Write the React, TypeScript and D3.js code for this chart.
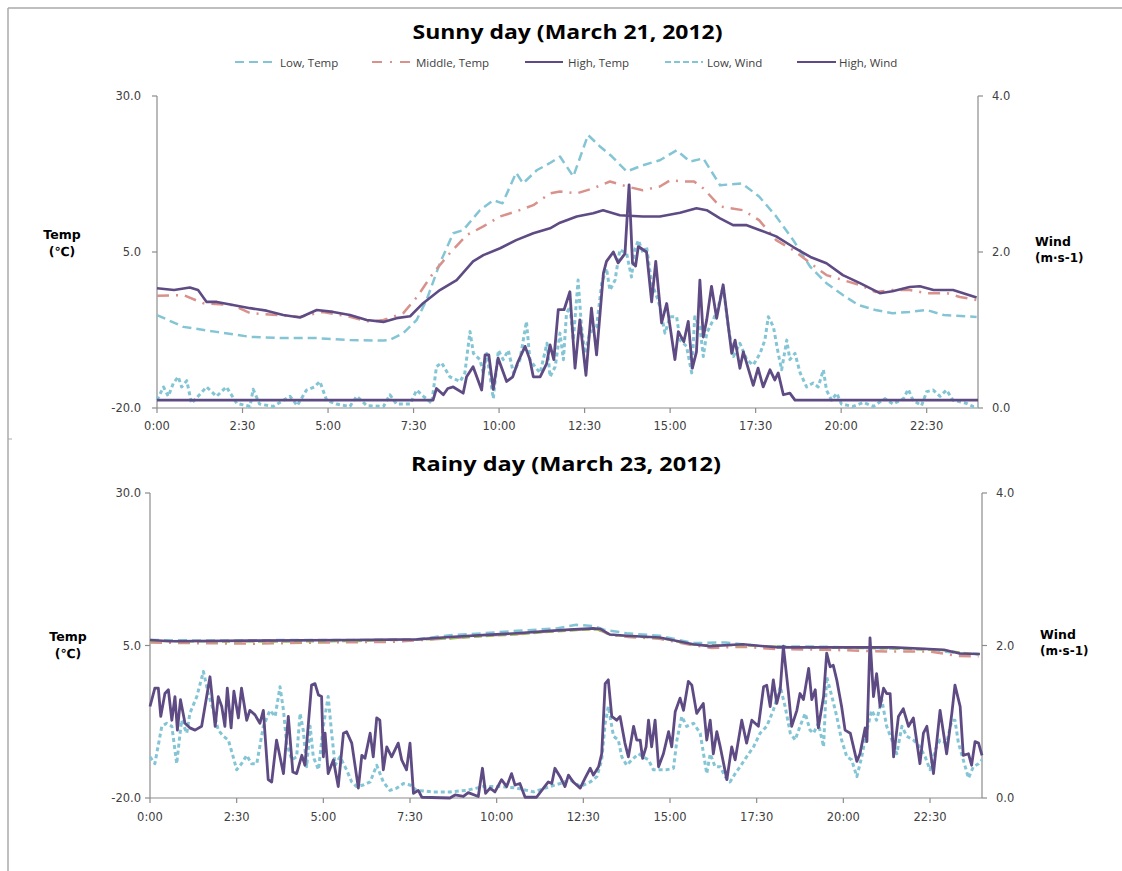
import React from 'react';
import * as d3 from 'd3';

type P = [number, number]; // [hour of day, value]

// ---------- axis definitions ----------
const tickHours = [0, 2.5, 5, 7.5, 10, 12.5, 15, 17.5, 20, 22.5];
const timeTickLabels = ['0:00', '2:30', '5:00', '7:30', '10:00', '12:30', '15:00', '17:30', '20:00', '22:30'];
const tempTicks = [-20, 5, 30];
const windTicks = [0, 2, 4];
const seriesNames = ['Low, Temp', 'Middle, Temp', 'High, Temp', 'Low, Wind', 'High, Wind'];
const titles = ['Sunny day (March 21, 2012)', 'Rainy day (March 23, 2012)'];

// ---------- Sunny day (March 21, 2012) ----------
const sunnyLowTemp: P[] = [[0,-5.1],[0.77,-7.0],[1.74,-7.8],[2.72,-8.6],[3.69,-8.8],[4.67,-8.8],[5.64,-9.1],[6.62,-9.2],[6.8,-9.1],[7.2,-8.0],[7.59,-5.9],[7.88,-2.7],[8.27,3.2],[8.66,8.0],[8.95,8.5],[9.44,11.7],[9.83,13.3],[10.1,12.8],[10.5,17.7],[10.7,16.0],[11.1,18.1],[11.5,19.3],[11.78,20.3],[12.17,17.1],[12.6,23.75],[12.95,21.9],[13.3,20.3],[13.73,17.9],[14.2,18.9],[14.7,19.7],[15.19,21.3],[15.58,19.5],[15.97,20.0],[16.46,15.7],[17.1,16.0],[17.6,13.9],[18.1,10.7],[18.6,6.9],[19.1,2.6],[19.57,0.0],[20.05,-1.9],[20.5,-3.5],[21.0,-4.3],[21.5,-4.8],[22.0,-4.6],[22.5,-4.3],[23.0,-5.1],[23.96,-5.4]];
const sunnyMidTemp: P[] = [[0,-2.0],[0.77,-1.9],[1.35,-3.2],[2.2,-3.5],[2.72,-4.8],[3.5,-5.1],[4.18,-5.4],[4.86,-4.6],[5.64,-5.4],[6.23,-6.2],[6.62,-5.9],[7.2,-4.8],[7.6,-2.2],[8.07,1.6],[8.56,4.8],[9.05,7.7],[9.54,9.1],[10.03,10.7],[10.5,11.5],[11.0,12.5],[11.49,14.4],[11.78,14.7],[12.27,14.4],[12.75,15.2],[13.24,16.3],[13.73,15.5],[14.2,14.9],[14.7,15.5],[15.0,16.5],[15.38,16.3],[15.7,16.3],[15.97,15.2],[16.46,12.3],[17.13,11.7],[17.6,10.1],[18.1,6.9],[18.6,5.3],[19.1,3.2],[19.57,1.3],[20.05,0.5],[20.55,-0.3],[21.0,-1.4],[21.5,-1.1],[22.0,-1.1],[22.5,-1.6],[23.1,-1.6],[23.47,-2.2],[23.96,-2.7]];
const sunnyHighTemp: P[] = [[0,-0.8],[0.5,-1.1],[0.96,-0.7],[1.2,-1.1],[1.45,-3.0],[1.75,-3.0],[2.22,-3.5],[2.72,-4.0],[3.2,-4.4],[3.69,-5.1],[4.18,-5.5],[4.67,-4.3],[5.15,-4.6],[5.64,-5.1],[6.13,-5.9],[6.62,-6.2],[7.0,-5.6],[7.4,-5.3],[7.78,-3.2],[8.27,-1.1],[8.76,0.5],[9.24,3.5],[9.54,4.5],[10.03,5.6],[10.5,6.9],[11.0,8.0],[11.49,8.8],[11.78,9.7],[12.27,10.7],[12.75,11.2],[13.04,11.7],[13.53,10.9],[14.2,10.7],[14.7,10.7],[15.29,11.3],[15.77,12.0],[16.07,11.7],[16.46,10.4],[16.84,9.3],[17.24,9.3],[17.63,8.5],[18.1,7.5],[18.6,5.8],[19.1,4.2],[19.57,3.2],[20.05,1.3],[20.55,0.0],[21.13,-1.6],[21.5,-1.3],[22.0,-0.6],[22.3,-0.5],[22.7,-1.1],[23.27,-1.1],[23.96,-2.3]];
const sunnyLowWind: P[] = [[0,0.1],[0.19,0.27],[0.33,0.15],[0.48,0.32],[0.62,0.40],[0.72,0.27],[0.87,0.35],[1.01,0.06],[1.2,0.15],[1.45,0.27],[1.74,0.15],[2.03,0.27],[2.33,0.06],[2.72,0.02],[2.81,0.24],[3.0,0.05],[3.4,0.02],[3.89,0.15],[4.1,0.03],[4.37,0.23],[4.6,0.27],[4.76,0.34],[4.96,0.10],[5.25,0.05],[5.64,0.02],[5.84,0.15],[6.13,0.03],[6.62,0.02],[6.81,0.17],[7.0,0.05],[7.4,0.05],[7.59,0.23],[7.79,0.15],[8.03,0.06],[8.17,0.53],[8.32,0.58],[8.56,0.40],[8.86,0.34],[9.0,0.45],[9.15,0.98],[9.25,0.70],[9.44,0.62],[9.54,0.45],[9.64,0.70],[9.83,0.12],[9.98,0.74],[10.12,0.62],[10.27,0.74],[10.42,0.45],[10.61,0.62],[10.8,1.11],[10.9,0.62],[11.05,0.53],[11.2,0.45],[11.4,0.83],[11.49,0.40],[11.64,0.53],[11.78,0.96],[11.88,0.62],[11.97,1.21],[12.07,1.30],[12.17,0.87],[12.31,1.64],[12.41,1.04],[12.51,0.70],[12.65,0.96],[12.85,1.04],[13.0,1.60],[13.14,1.79],[13.24,1.51],[13.39,1.64],[13.53,2.03],[13.73,1.98],[13.87,1.68],[13.97,2.03],[14.07,2.15],[14.22,1.98],[14.31,2.07],[14.46,1.60],[14.61,1.43],[14.7,1.30],[14.85,0.96],[15.0,1.17],[15.19,1.17],[15.29,0.87],[15.48,0.79],[15.63,0.45],[15.72,1.17],[15.87,1.04],[15.97,0.66],[16.07,0.96],[16.26,1.13],[16.41,1.30],[16.55,1.56],[16.7,1.04],[16.85,0.66],[17.04,0.83],[17.24,0.62],[17.43,0.55],[17.63,0.70],[17.77,0.87],[17.87,1.17],[18.02,1.04],[18.16,0.70],[18.26,0.49],[18.41,0.87],[18.5,0.62],[18.65,0.70],[18.8,0.45],[18.99,0.27],[19.18,0.32],[19.33,0.27],[19.48,0.49],[19.57,0.23],[19.72,0.10],[19.87,0.19],[20.01,0.05],[20.35,0.02],[20.65,0.07],[20.94,0.02],[21.28,0.12],[21.52,0.05],[21.82,0.12],[21.96,0.24],[22.1,0.10],[22.35,0.03],[22.5,0.21],[22.69,0.23],[22.89,0.15],[23.08,0.23],[23.27,0.10],[23.47,0.08],[23.66,0.06],[23.85,0.02],[24,0.02]];
const sunnyHighWind: P[] = [[0,0.1],[8.07,0.1],[8.17,0.25],[8.37,0.17],[8.5,0.25],[8.66,0.27],[8.95,0.19],[9.05,0.40],[9.24,0.53],[9.49,0.23],[9.59,0.68],[9.7,0.68],[9.83,0.24],[9.97,0.64],[10.22,0.34],[10.4,0.40],[10.55,0.59],[10.76,0.79],[10.9,0.62],[11.0,0.40],[11.2,0.40],[11.39,0.57],[11.49,0.81],[11.6,0.62],[11.73,1.26],[11.9,1.26],[12.07,1.49],[12.22,0.51],[12.36,1.13],[12.54,0.42],[12.7,1.28],[12.85,0.68],[13.05,1.73],[13.14,1.88],[13.34,2.0],[13.48,1.86],[13.68,1.98],[13.8,2.86],[13.9,1.86],[13.99,1.82],[14.07,2.07],[14.31,2.0],[14.46,1.36],[14.58,1.88],[14.75,1.09],[14.9,1.34],[15.14,0.62],[15.24,0.98],[15.4,0.85],[15.53,1.11],[15.65,0.51],[15.77,0.72],[15.87,1.64],[15.97,0.91],[16.07,1.13],[16.21,1.56],[16.36,1.15],[16.55,1.58],[16.8,0.70],[16.9,0.87],[17.04,0.51],[17.14,0.72],[17.43,0.29],[17.57,0.51],[17.72,0.27],[17.92,0.49],[18.06,0.36],[18.16,0.45],[18.31,0.17],[18.5,0.19],[18.65,0.10],[24,0.10]];

// ---------- Rainy day (March 23, 2012) ----------
const rainyLowTemp: P[] = [[0,5.9],[2,5.8],[4,5.9],[6,5.9],[7.7,6.0],[8.65,6.7],[9.6,7.0],[10.58,7.4],[11.73,7.8],[12.3,8.4],[12.79,8.2],[13.1,7.6],[13.75,7.0],[14.7,6.6],[15.67,5.4],[16.6,5.5],[17.6,4.9],[19.5,4.8],[21.4,4.5],[22.5,4.4],[23.3,3.7],[23.9,3.6]];
const rainyMidTemp: P[] = [[0,5.5],[1,5.4],[3,5.3],[5,5.5],[7,5.6],[8.7,6.2],[9.6,6.6],[10.6,6.9],[11.5,7.3],[12.3,7.6],[12.9,7.7],[13.3,6.7],[13.8,6.4],[14.7,6.1],[15.7,5.0],[16.2,4.6],[17.1,4.8],[18.1,4.4],[19.5,4.3],[21.4,4.0],[22.5,4.0],[23.3,3.3],[23.9,3.2]];
const rainyOtherTemp: P[] = [[0,5.7],[3,5.6],[6,5.7],[8.6,6.1],[9.6,6.5],[10.6,6.8],[11.5,7.2],[12.3,7.5],[12.9,7.6],[13.3,6.7],[14.7,6.2],[15.7,5.1],[17.1,5.0],[19.5,4.6],[21.4,4.5],[22.9,4.2],[23.9,3.5]];
const rainyHighTemp: P[] = [[0,5.9],[0.6,5.7],[2.9,5.8],[5.8,5.9],[7.7,6.0],[8.65,6.4],[9.6,6.7],[10.58,7.0],[11.54,7.4],[12.1,7.6],[12.79,7.8],[13.0,7.7],[13.27,6.8],[13.75,6.6],[14.7,6.3],[15.67,5.2],[16.15,4.9],[17.1,5.2],[18.08,4.7],[19.5,4.7],[21.44,4.7],[22.9,4.3],[23.36,3.7],[23.94,3.6]];
const rainyLowWind: P[] = [[0,0.54],[0.14,0.45],[0.34,0.94],[0.48,0.98],[0.63,0.94],[0.77,0.45],[0.91,1.02],[1.06,0.85],[1.15,1.11],[1.35,1.33],[1.54,1.66],[1.68,1.37],[1.83,1.15],[1.97,0.89],[2.12,0.81],[2.26,0.76],[2.4,0.54],[2.5,0.37],[2.64,0.45],[2.79,0.56],[2.93,0.45],[3.08,0.45],[3.27,0.94],[3.46,1.15],[3.61,1.07],[3.75,1.46],[3.85,1.15],[3.94,0.72],[4.09,0.50],[4.23,0.54],[4.33,1.11],[4.42,0.89],[4.52,0.41],[4.62,0.94],[4.71,0.54],[4.86,0.37],[5.0,0.94],[5.14,1.33],[5.24,0.85],[5.34,0.43],[5.48,0.54],[5.67,0.37],[5.82,0.21],[5.96,0.15],[6.15,0.17],[6.35,0.21],[6.54,0.43],[6.73,0.21],[6.92,0.10],[7.12,0.13],[7.31,0.19],[7.5,0.17],[7.69,0.10],[8.17,0.08],[8.65,0.08],[9.13,0.10],[9.62,0.15],[10.1,0.15],[10.58,0.13],[11.06,0.08],[11.54,0.15],[11.83,0.19],[12.12,0.24],[12.41,0.15],[12.7,0.21],[12.89,0.28],[13.03,0.50],[13.13,0.98],[13.22,1.20],[13.37,0.81],[13.51,0.76],[13.61,0.54],[13.75,0.43],[13.9,0.50],[14.09,0.58],[14.23,0.54],[14.38,0.50],[14.52,0.37],[14.71,0.37],[14.9,0.37],[15.1,0.39],[15.2,0.76],[15.34,1.07],[15.48,0.94],[15.68,0.98],[15.87,0.85],[16.06,0.32],[16.16,0.58],[16.3,0.41],[16.45,0.41],[16.59,0.28],[16.73,0.21],[16.88,0.32],[17.02,0.41],[17.21,0.54],[17.41,0.67],[17.6,0.85],[17.79,0.94],[17.98,1.15],[18.18,1.46],[18.32,1.20],[18.47,0.85],[18.61,0.76],[18.75,0.94],[18.9,1.11],[19.04,0.89],[19.14,0.85],[19.28,0.98],[19.43,0.67],[19.52,1.59],[19.67,1.33],[19.81,1.07],[19.95,0.76],[20.1,0.54],[20.24,0.50],[20.39,0.28],[20.53,0.54],[20.68,0.89],[20.82,1.15],[20.96,1.02],[21.11,1.29],[21.25,0.94],[21.4,0.76],[21.54,0.58],[21.69,0.94],[21.83,0.81],[22.02,0.76],[22.21,0.67],[22.36,0.54],[22.5,0.37],[22.65,0.63],[22.79,0.76],[22.98,0.72],[23.13,1.02],[23.22,1.02],[23.32,0.72],[23.46,0.50],[23.61,0.26],[23.75,0.41],[23.9,0.45],[24.0,0.50]];
const rainyHighWind: P[] = [[0,1.20],[0.14,1.44],[0.24,1.44],[0.31,1.07],[0.43,1.37],[0.53,1.42],[0.63,1.02],[0.72,1.33],[0.79,0.89],[0.88,1.29],[1.01,0.98],[1.15,0.92],[1.30,0.89],[1.49,0.94],[1.73,1.59],[1.88,0.94],[1.97,1.33],[2.07,1.20],[2.16,0.94],[2.23,1.44],[2.34,0.92],[2.42,1.40],[2.55,1.05],[2.64,1.44],[2.79,1.02],[2.88,1.15],[3.03,1.09],[3.17,0.98],[3.27,1.15],[3.41,0.24],[3.51,0.21],[3.65,0.76],[3.85,0.32],[3.99,1.07],[4.12,0.34],[4.23,0.32],[4.38,0.56],[4.47,0.43],[4.66,1.48],[4.76,1.50],[4.86,1.35],[4.95,1.33],[5.0,0.54],[5.05,0.85],[5.14,0.32],[5.29,0.50],[5.43,0.15],[5.58,0.85],[5.67,0.87],[5.82,0.72],[6.01,0.13],[6.11,0.56],[6.2,0.52],[6.35,0.85],[6.44,0.54],[6.54,1.05],[6.63,1.02],[6.73,0.37],[6.83,0.67],[6.97,0.54],[7.16,0.72],[7.26,0.50],[7.4,0.37],[7.5,0.72],[7.6,0.06],[7.74,0.10],[7.84,0.01],[8.65,0.0],[8.8,0.04],[9.04,0.02],[9.18,0.07],[9.47,0.02],[9.59,0.39],[9.68,0.06],[9.81,0.13],[9.95,0.08],[10.14,0.24],[10.29,0.15],[10.43,0.32],[10.53,0.17],[10.67,0.19],[10.82,0.01],[11.15,0.01],[11.3,0.10],[11.49,0.21],[11.59,0.19],[11.68,0.39],[11.83,0.28],[11.97,0.15],[12.07,0.30],[12.21,0.21],[12.41,0.13],[12.55,0.26],[12.7,0.39],[12.79,0.30],[12.94,0.41],[13.03,0.58],[13.13,1.50],[13.22,1.55],[13.32,1.07],[13.46,1.02],[13.56,1.07],[13.7,0.72],[13.8,0.54],[13.95,0.94],[14.04,0.76],[14.14,0.76],[14.21,0.52],[14.31,0.67],[14.38,1.02],[14.47,0.67],[14.57,1.02],[14.67,0.41],[14.81,0.58],[14.96,0.87],[15.05,0.67],[15.15,1.13],[15.29,1.31],[15.39,1.15],[15.53,1.53],[15.63,1.48],[15.77,1.11],[15.96,1.24],[16.06,0.76],[16.16,1.02],[16.25,0.58],[16.35,0.87],[16.45,0.67],[16.64,0.24],[16.78,0.67],[16.88,0.50],[17.07,1.02],[17.21,0.72],[17.36,1.02],[17.55,0.94],[17.7,1.46],[17.79,1.48],[17.89,1.20],[17.98,1.55],[18.08,1.24],[18.18,1.42],[18.27,1.99],[18.42,1.37],[18.51,0.94],[18.66,1.15],[18.75,1.37],[18.85,1.29],[19.0,1.70],[19.09,1.29],[19.19,1.42],[19.28,0.92],[19.43,1.33],[19.52,1.90],[19.62,1.72],[19.71,1.74],[19.81,1.55],[19.95,1.20],[20.05,0.89],[20.2,0.85],[20.39,0.48],[20.48,0.58],[20.63,0.92],[20.68,0.74],[20.77,2.10],[20.87,1.33],[20.96,1.63],[21.06,1.20],[21.16,1.44],[21.25,1.37],[21.35,1.37],[21.45,0.54],[21.59,1.07],[21.73,1.17],[21.88,0.94],[22.02,1.05],[22.21,0.45],[22.31,0.85],[22.41,0.94],[22.6,0.32],[22.79,1.15],[22.98,0.58],[23.13,1.11],[23.22,1.48],[23.37,1.20],[23.46,0.56],[23.61,0.58],[23.7,0.43],[23.8,0.74],[23.9,0.72],[24.0,0.56]];

// ---------- styles ----------
const C_LOW = '#84c5d5';
const C_MID = '#d8918b';
const C_HIGH = '#5f4b84';
const C_GREEN = '#9bbb59';
const AXIS = '#8c8c8c';
const TXT = '#404040';

type Style = { color: string; width: number; dash?: string };
const styles: Style[] = [
  { color: C_LOW, width: 2.5, dash: '9,5' },
  { color: C_MID, width: 2.5, dash: '12,7,2,7' },
  { color: C_HIGH, width: 2.6 },
  { color: C_LOW, width: 3, dash: '4,3' },
  { color: C_HIGH, width: 2.8 },
];

type Layout = {
  x0: number; x1: number; yTop: number; yBot: number;
  titleY: number; tickLabelY: number; leftLabelX: number; rightLabelX: number;
  tempLabelX: number; tempLabelY: number; windLabelX: number; windLabelY: number;
};

const sunnyLayout: Layout = { x0: 157, x1: 978, yTop: 96, yBot: 408, titleY: 31, tickLabelY: 426, leftLabelX: 141, rightLabelX: 992, tempLabelX: 62, tempLabelY: 234, windLabelX: 1035, windLabelY: 241 };
const rainyLayout: Layout = { x0: 150, x1: 982, yTop: 493, yBot: 798, titleY: 463, tickLabelY: 817, leftLabelX: 141, rightLabelX: 996, tempLabelX: 68, tempLabelY: 636, windLabelX: 1040, windLabelY: 634 };

const legendLayout = [
  { sx: 235, ex: 277, tx: 280 },
  { sx: 372, ex: 412, tx: 416 },
  { sx: 525, ex: 563, tx: 568 },
  { sx: 665, ex: 703, tx: 707 },
  { sx: 797, ex: 836, tx: 839 },
];

const FONT_TICK = '"DejaVu Sans", Verdana, sans-serif';
const FONT_TITLE = '"Open Sans", "Liberation Sans", sans-serif';

function Panel({ L, title, temps, winds, extra }: { L: Layout; title: string; temps: P[][]; winds: P[][]; extra?: P[] }) {
  const x = d3.scaleLinear().domain([0, 24]).range([L.x0, L.x1]);
  const yT = d3.scaleLinear().domain([-20, 30]).range([L.yBot, L.yTop]);
  const yW = d3.scaleLinear().domain([0, 4]).range([L.yBot, L.yTop]);
  const lineT = d3.line<P>().x(d => x(d[0])).y(d => yT(d[1]));
  const lineW = d3.line<P>().x(d => x(d[0])).y(d => yW(d[1]));
  const titleW = 310;
  return (
    <g>
      <text x={(L.x0 + L.x1) / 2 - 0} y={L.titleY} textAnchor="middle" dominantBaseline="central"
        fontFamily={FONT_TITLE} fontWeight={700} fontSize={20} fill="#000"
        textLength={titleW} lengthAdjust="spacingAndGlyphs">{title}</text>
      {/* axes */}
      <line x1={L.x0} x2={L.x0} y1={L.yTop} y2={L.yBot} stroke={AXIS} strokeWidth={1.2} />
      <line x1={L.x1} x2={L.x1} y1={L.yTop} y2={L.yBot} stroke={AXIS} strokeWidth={1.2} />
      <line x1={L.x0} x2={L.x1} y1={L.yBot} y2={L.yBot} stroke={AXIS} strokeWidth={1.2} />
      {tempTicks.map(t => (
        <g key={'t' + t}>
          <line x1={L.x0 - 5} x2={L.x0} y1={yT(t)} y2={yT(t)} stroke={AXIS} strokeWidth={1.2} />
          <text x={L.leftLabelX} y={yT(t)} textAnchor="end" dominantBaseline="central" fontFamily={FONT_TICK} fontSize={11.5} fill={TXT}>{t.toFixed(1)}</text>
        </g>
      ))}
      {windTicks.map(w => (
        <g key={'w' + w}>
          <line x1={L.x1} x2={L.x1 + 5} y1={yW(w)} y2={yW(w)} stroke={AXIS} strokeWidth={1.2} />
          <text x={L.rightLabelX} y={yW(w)} textAnchor="start" dominantBaseline="central" fontFamily={FONT_TICK} fontSize={11.5} fill={TXT}>{w.toFixed(1)}</text>
        </g>
      ))}
      {tickHours.map((h, i) => (
        <g key={'h' + h}>
          <line x1={x(h)} x2={x(h)} y1={L.yBot} y2={L.yBot + 5} stroke={AXIS} strokeWidth={1.2} />
          <text x={x(h)} y={L.tickLabelY} textAnchor="middle" dominantBaseline="central" fontFamily={FONT_TICK} fontSize={11.5} fill={TXT}>{timeTickLabels[i]}</text>
        </g>
      ))}
      {/* axis titles */}
      <text x={L.tempLabelX} y={L.tempLabelY} textAnchor="middle" dominantBaseline="central" fontFamily={FONT_TICK} fontWeight={700} fontSize={12.5} fill="#000">Temp</text>
      <text x={L.tempLabelX} y={L.tempLabelY + 17} textAnchor="middle" dominantBaseline="central" fontFamily={FONT_TICK} fontWeight={700} fontSize={12.5} fill="#000">(℃)</text>
      <text x={L.windLabelX} y={L.windLabelY} textAnchor="start" dominantBaseline="central" fontFamily={FONT_TICK} fontWeight={700} fontSize={12.5} fill="#000">Wind</text>
      <text x={L.windLabelX} y={L.windLabelY + 17} textAnchor="start" dominantBaseline="central" fontFamily={FONT_TICK} fontWeight={700} fontSize={12} fill="#000">(m·s-1)</text>
      {/* series */}
      {temps.map((s, i) => (
        <React.Fragment key={'ts' + i}>
          {i === 2 && extra ? (
            <path d={lineT(extra) || ''} fill="none" stroke={C_GREEN} strokeWidth={2} strokeDasharray="8,4" />
          ) : null}
          <path d={lineT(s) || ''} fill="none" stroke={styles[i].color} strokeWidth={styles[i].width}
            strokeDasharray={styles[i].dash} strokeLinejoin="round" />
        </React.Fragment>
      ))}
      {winds.map((s, i) => (
        <path key={'ws' + i} d={lineW(s) || ''} fill="none" stroke={styles[3 + i].color} strokeWidth={styles[3 + i].width}
          strokeDasharray={styles[3 + i].dash} strokeLinejoin="round" />
      ))}
    </g>
  );
}

export default function App() {
  return (
    <svg width={1122} height={871} style={{ position: 'absolute', left: 0, top: 0, background: '#fff' }}>
      <rect x={0} y={0} width={1122} height={871} fill="#fff" />
      {/* chart frame */}
      <line x1={8} x2={1122} y1={8} y2={8} stroke="#aaaaaa" strokeWidth={1.5} />
      <line x1={8} x2={8} y1={8} y2={871} stroke="#aaaaaa" strokeWidth={1.5} />
      <line x1={8} x2={12} y1={439} y2={439} stroke="#aaaaaa" strokeWidth={1} />
      {/* legend */}
      {seriesNames.map((n, i) => (
        <g key={n}>
          <line x1={legendLayout[i].sx} x2={legendLayout[i].ex} y1={62} y2={62} stroke={styles[i].color}
            strokeWidth={2.2} strokeDasharray={i === 3 ? '6,3' : styles[i].dash === '12,7,2,7' ? '10,8,2,8' : styles[i].dash} />
          <text x={legendLayout[i].tx} y={62} dominantBaseline="central" fontFamily={FONT_TITLE} fontSize={11.5} fill={TXT}>{n}</text>
        </g>
      ))}
      <Panel L={sunnyLayout} title={titles[0]} temps={[sunnyLowTemp, sunnyMidTemp, sunnyHighTemp]} winds={[sunnyLowWind, sunnyHighWind]} />
      <Panel L={rainyLayout} title={titles[1]} temps={[rainyLowTemp, rainyMidTemp, rainyHighTemp]} winds={[rainyLowWind, rainyHighWind]} extra={rainyOtherTemp} />
    </svg>
  );
}
